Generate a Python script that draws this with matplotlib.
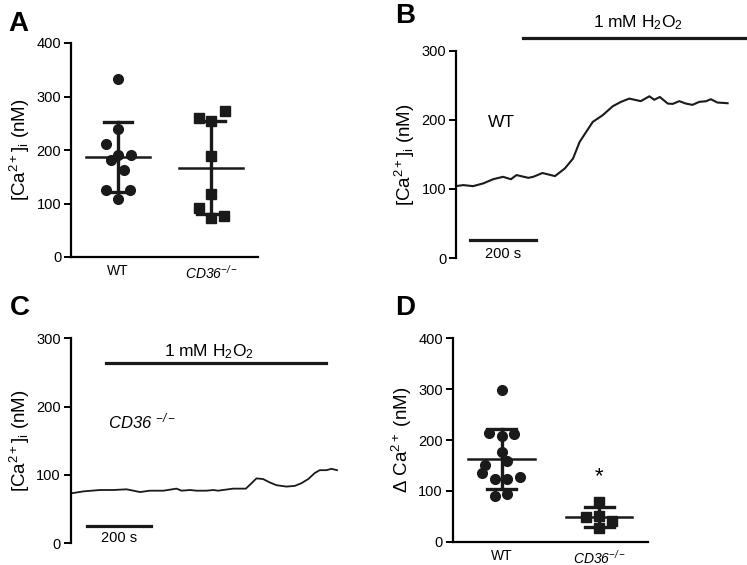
import matplotlib
matplotlib.use("Agg")
import matplotlib.pyplot as plt
import numpy as np

plt.rcParams['font.family'] = ['Liberation Sans', 'DejaVu Sans']
plt.rcParams['mathtext.fontset'] = 'custom'
plt.rcParams['mathtext.rm'] = 'Liberation Sans'
plt.rcParams['mathtext.it'] = 'Liberation Sans:italic'
plt.rcParams['mathtext.sf'] = 'Liberation Sans:italic'
plt.rcParams['mathtext.bf'] = 'Liberation Sans:bold'

# ---------------- data ----------------
groups = ["WT", r"$\mathsf{CD36}^{\mathsf{-/-}}$"]

# Panel A: baseline [Ca2+]i
a_wt = [332, 240, 211, 191, 182, 191, 162, 126, 126, 108]
a_wt_jit = [0.0, 0.0, -0.13, 0.0, -0.07, 0.14, 0.07, -0.13, 0.13, 0.0]
a_ko = [272, 259, 255, 189, 117, 92, 77, 72]
a_ko_jit = [0.15, -0.13, 0.0, 0.0, 0.0, -0.13, 0.14, 0.0]

# Panel B: WT trace
b_t = [0, 22, 52, 83, 113, 143, 167, 184, 220, 235, 263, 301, 331, 356, 376, 396,
       416, 446, 477, 502, 527, 562, 588, 603, 620, 644, 659, 679, 699, 719, 740,
       760, 775, 795, 826]
b_v = [104, 105.5, 104, 108, 114, 117.5, 114, 120, 116, 117.5, 123, 118.5, 129.6,
       144, 168, 182.5, 197, 206.6, 219.7, 226, 230.7, 227, 234, 229, 233, 223.5,
       223, 227, 223.5, 221.6, 226, 226.8, 229.8, 225, 224]

# Panel C: CD36-/- trace
c_t = [0, 40, 92, 133, 175, 217, 248, 290, 331, 347, 373, 394, 425, 446, 461, 508,
       548, 566, 581, 602, 623, 644, 675, 701, 722, 743, 764, 779, 800, 816, 833]
c_v = [73, 76, 78, 78, 79, 75, 77, 77, 80, 77, 78, 77, 77, 78, 77, 80, 80, 88, 95,
       94, 89, 85, 83, 84, 88, 94, 103, 107, 107, 109, 107]

# Panel D: delta Ca2+
d_wt = [298, 214, 208, 212, 176, 150, 159, 136, 123, 123, 128, 90, 94]
d_wt_jit = [0.0, -0.13, 0.0, 0.13, 0.0, -0.17, 0.06, -0.2, -0.07, 0.06, 0.19, -0.07, 0.06]
d_ko = [79, 49, 50, 41, 26]
d_ko_jit = [0.0, -0.13, 0.0, 0.13, 0.0]

W, H = 747, 565
fig = plt.figure(figsize=(W / 100, H / 100), dpi=100)
INK = '#1a1a1a'


def px_axes(left, right, top, bottom):
    return fig.add_axes([left / W, (H - bottom) / H, (right - left) / W, (bottom - top) / H])


def style(ax, bottom=True):
    for s in ['top', 'right']:
        ax.spines[s].set_visible(False)
    ax.spines['left'].set_linewidth(1.6)
    ax.spines['bottom'].set_linewidth(1.6)
    if not bottom:
        ax.spines['bottom'].set_visible(False)
        ax.set_xticks([])
    ax.tick_params(axis='y', length=5, width=1.4, labelsize=10.5, pad=2)
    ax.tick_params(axis='x', length=0, labelsize=10, pad=5)


def scatter_panel(ax, wt, wtj, ko, koj):
    for i, (vals, jit, mk) in enumerate([(wt, wtj, 'o'), (ko, koj, 's')]):
        vals = np.array(vals, float)
        m, sd = vals.mean(), vals.std(ddof=1)
        ax.plot(i + np.array(jit), vals, mk, color=INK, ms=7, zorder=3)
        ax.plot([i, i], [m - sd, m + sd], color=INK, lw=2.4, zorder=2)
        ax.plot([i - 0.15, i + 0.15], [m + sd] * 2, color=INK, lw=2.4, zorder=2)
        ax.plot([i - 0.15, i + 0.15], [m - sd] * 2, color=INK, lw=2.4, zorder=2)
        ax.plot([i - 0.34, i + 0.34], [m] * 2, color=INK, lw=1.8, zorder=2)
    ax.set_xlim(-0.5, 1.5)
    ax.set_xticks([0, 1])
    ax.set_xticklabels(groups)


ylab = r'[Ca$^{2+}$]$_{\rm i}$ (nM)'

# ---- A ----
axA = px_axes(71, 258, 43, 257)
style(axA)
scatter_panel(axA, a_wt, a_wt_jit, a_ko, a_ko_jit)
axA.set_ylim(0, 400)
axA.set_yticks([0, 100, 200, 300, 400])
axA.set_ylabel(ylab, fontsize=13.5, labelpad=3)

# ---- B ----
axB = px_axes(456, 746, 50.7, 258)
style(axB, bottom=False)
axB.plot(b_t, b_v, color=INK, lw=1.5)
axB.set_xlim(0, 882)
axB.set_ylim(0, 300)
axB.set_yticks([0, 100, 200, 300])
axB.set_ylabel(ylab, fontsize=13.5, labelpad=3)
axB.plot([203, 882], [319, 319], color=INK, lw=2.3, clip_on=False)
axB.text(552, 341, r'1 mM H$_2$O$_2$', ha='center', va='center', fontsize=12.5, clip_on=False)
axB.plot([42, 242], [26, 26], color=INK, lw=2.3)
axB.text(142, 6, '200 s', ha='center', va='center', fontsize=10.5)
axB.text(138, 196, 'WT', ha='center', va='center', fontsize=12.5)

# ---- C ----
axC = px_axes(70.7, 352, 338.3, 543.3)
style(axC, bottom=False)
axC.plot(c_t, c_v, color=INK, lw=1.3)
axC.set_xlim(0, 880)
axC.set_ylim(0, 300)
axC.set_yticks([0, 100, 200, 300])
axC.set_ylabel(ylab, fontsize=13.5, labelpad=3)
axC.plot([110, 800], [263.5, 263.5], color=INK, lw=2.3, clip_on=False)
axC.text(433, 281, r'1 mM H$_2$O$_2$', ha='center', va='center', fontsize=12.5)
axC.plot([50, 250], [26, 26], color=INK, lw=2.3)
axC.text(150, 8, '200 s', ha='center', va='center', fontsize=10.5)
axC.text(117, 178, r'$\mathsf{CD36}$ $^{\mathsf{-/-}}$', ha='left', va='center', fontsize=12)

# ---- D ----
axD = px_axes(452.7, 648, 338.3, 541.7)
style(axD)
scatter_panel(axD, d_wt, d_wt_jit, d_ko, d_ko_jit)
axD.set_ylim(0, 400)
axD.set_yticks([0, 100, 200, 300, 400])
axD.set_ylabel(r'$\Delta$ Ca$^{2+}$ (nM)', fontsize=13.5, labelpad=3)
axD.text(1, 128, '*', ha='center', va='center', fontsize=16)

# panel letters
for lab, x, y in [('A', 8, 24), ('B', 395, 16), ('C', 10, 308), ('D', 395, 308)]:
    fig.text(x / W, 1 - y / H, lab, fontsize=20, fontweight='bold', ha='left', va='center')

fig.savefig('out.png', dpi=100)
